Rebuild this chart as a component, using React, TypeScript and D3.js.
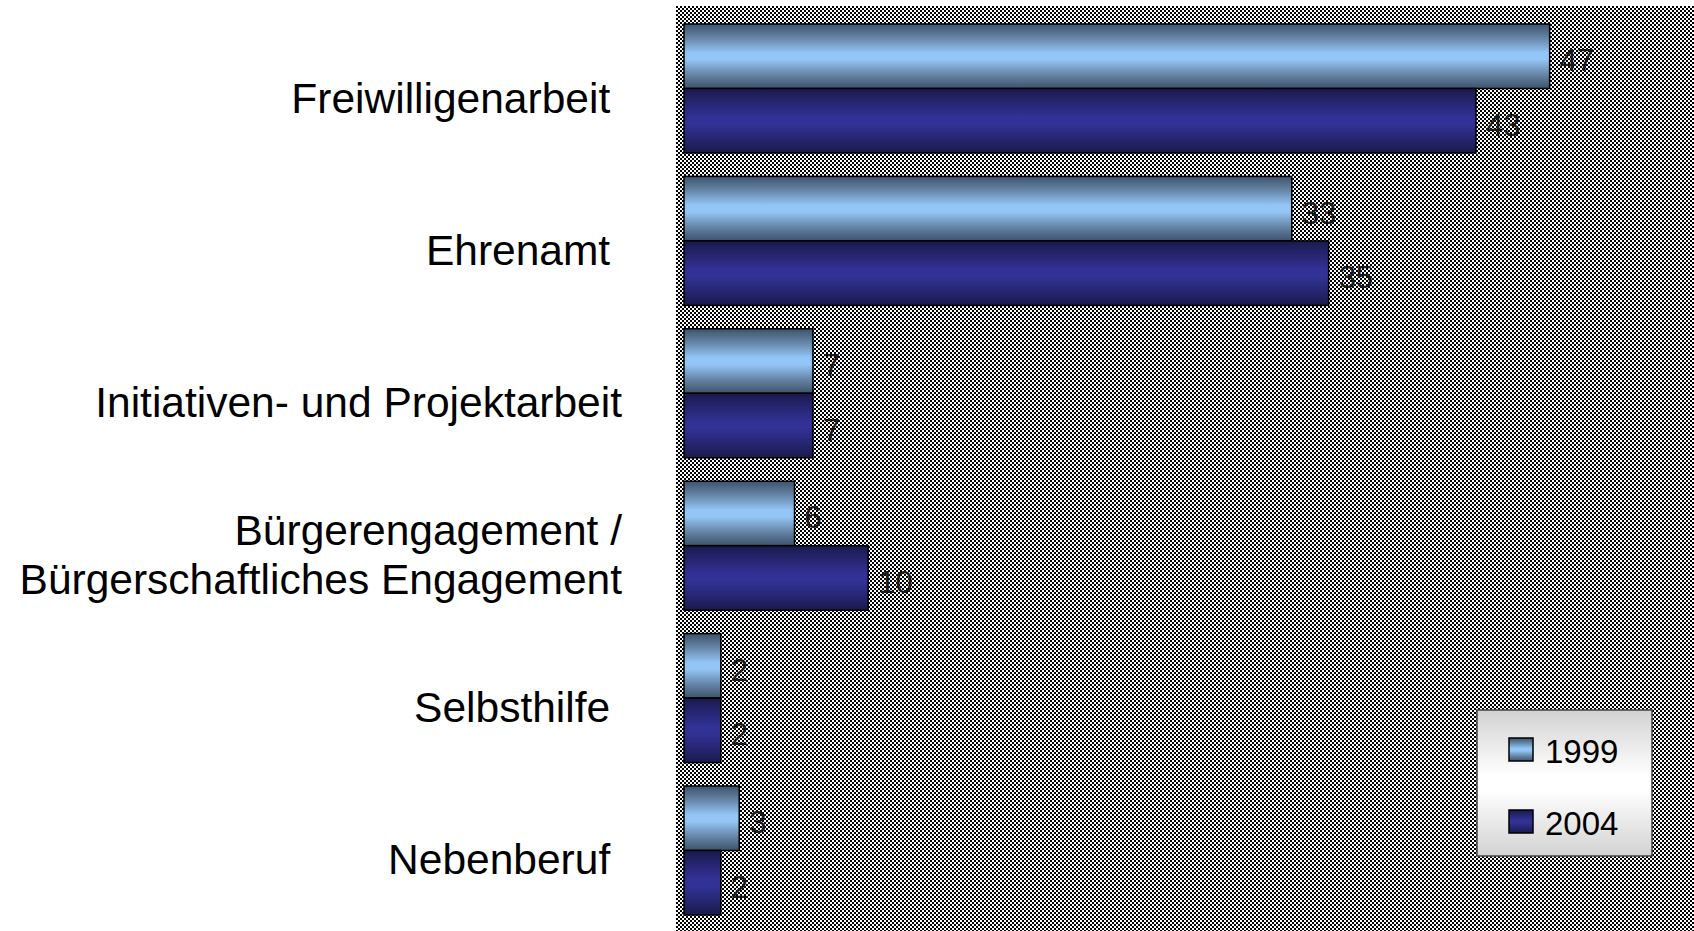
import React from "react";
import * as d3 from "d3";

const categories = [
  "Freiwilligenarbeit ",
  "Ehrenamt ",
  "Initiativen- und Projektarbeit",
  "Bürgerengagement /\nBürgerschaftliches Engagement",
  "Selbsthilfe ",
  "Nebenberuf ",
];
const seriesNames = ["1999", "2004"];
const values1999 = [47, 33, 7, 6, 2, 3];
const values2004 = [43, 35, 7, 10, 2, 2];
const axisMax = 55;

const W = 1694;
const H = 931;
const FONT = "'Liberation Sans', Arial, Helvetica, sans-serif";

export default function App() {
  const x = d3.scaleLinear().domain([0, axisMax]).range([684, 1697]);
  const y = d3
    .scaleBand<string>()
    .domain(categories)
    .range([24, 915])
    .paddingInner(0.1535)
    .paddingOuter(0);
  const ySub = d3.scaleBand<string>().domain(seriesNames).range([0, y.bandwidth()]);
  const seriesValues = [values1999, values2004];
  const fills = ["url(#g1999)", "url(#g2004)"];

  return (
    <svg
      width={W}
      height={H}
      style={{ position: "absolute", left: 0, top: 0, background: "#fff" }}
      fontFamily={FONT}
    >
      <defs>
        <pattern
          id="checker"
          patternUnits="userSpaceOnUse"
          width={4}
          height={4}
          patternTransform="translate(0,2)"
        >
          <rect width={4} height={4} fill="#fff" />
          <rect x={0} y={0} width={2} height={2} fill="#000" />
          <rect x={2} y={2} width={2} height={2} fill="#000" />
        </pattern>
        <linearGradient id="g1999" x1="0" y1="0" x2="0" y2="1">
          <stop offset="0%" stopColor="#3c546e" />
          <stop offset="20%" stopColor="#6381a1" />
          <stop offset="45%" stopColor="#93c6f7" />
          <stop offset="55%" stopColor="#93c6f7" />
          <stop offset="80%" stopColor="#6381a1" />
          <stop offset="100%" stopColor="#3c536c" />
        </linearGradient>
        <linearGradient id="g2004" x1="0" y1="0" x2="0" y2="1">
          <stop offset="0%" stopColor="#1a1a4d" />
          <stop offset="45%" stopColor="#323296" />
          <stop offset="55%" stopColor="#323296" />
          <stop offset="100%" stopColor="#1a1a4d" />
        </linearGradient>
        <linearGradient id="gLegend" x1="0" y1="0" x2="0" y2="1">
          <stop offset="0%" stopColor="#d2d2d2" />
          <stop offset="45%" stopColor="#ffffff" />
          <stop offset="55%" stopColor="#ffffff" />
          <stop offset="100%" stopColor="#d2d2d2" />
        </linearGradient>
      </defs>

      {/* plot area */}
      <rect x={676} y={6} width={W - 676} height={H - 6} fill="url(#checker)" />

      {/* bars */}
      {categories.map((c, i) => (
        <g key={c} transform={`translate(0,${y(c)})`}>
          {seriesNames.map((s, j) => {
            const v = seriesValues[j][i];
            const by = ySub(s)!;
            const bh = ySub.bandwidth();
            return (
              <g key={s}>
                <rect
                  x={x(0)}
                  y={by}
                  width={x(v) - x(0)}
                  height={bh}
                  fill={fills[j]}
                  stroke="#000"
                  strokeWidth={1.5}
                />
                <text
                  x={x(v) + 10}
                  y={by + bh / 2 + 15}
                  fontSize={31}
                  fill="#1a1a1a"
                >
                  {v}
                </text>
              </g>
            );
          })}
        </g>
      ))}

      {/* category labels */}
      {categories.map((c) => {
        const lines = c.split("\n");
        const cy = y(c)! + y.bandwidth() / 2 + 9;
        const lh = 48.6;
        return (
          <text
            key={c}
            textAnchor="end"
            fontSize={42.5}
            fill="#000"
            style={{ whiteSpace: "pre" }}
          >
            {lines.map((ln, k) => (
              <tspan
                key={k}
                x={622}
                y={cy + 15 + (k - (lines.length - 1) / 2) * lh}
              >
                {ln}
              </tspan>
            ))}
          </text>
        );
      })}

      {/* legend */}
      <g>
        <rect x={1477} y={710} width={175} height={146} fill="url(#gLegend)" stroke="#444" strokeWidth={1.5} />
        {seriesNames.map((s, j) => (
          <g key={s} transform={`translate(1509,${738 + j * 72})`}>
            <rect x={0} y={0} width={24} height={23} fill={fills[j]} stroke="#000" strokeWidth={1.5} />
            <text x={36} y={25} fontSize={33} fill="#000">
              {s}
            </text>
          </g>
        ))}
      </g>
    </svg>
  );
}
